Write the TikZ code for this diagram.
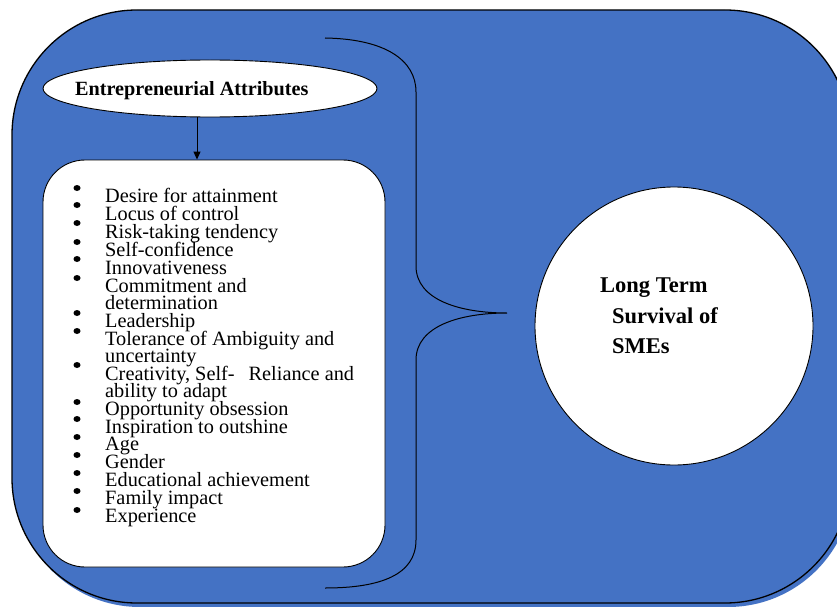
\documentclass[tikz,border=0pt]{standalone}
\usepackage{fontspec}
\setmainfont{Liberation Serif}
\usetikzlibrary{arrows.meta,shapes.geometric}
\definecolor{officeblue}{RGB}{68,114,196}
\begin{document}
\begin{tikzpicture}[x=1pt,y=-1pt,
  item/.style={anchor=base west, inner sep=0pt, font=\fontsize{20.3}{18}\selectfont},
  bul/.style={fill=black, ellipse, inner sep=0pt, minimum width=7pt, minimum height=6pt},
  ttl/.style={anchor=base west, inner sep=0pt, font=\bfseries\fontsize{20.2}{20}\selectfont},
  big/.style={anchor=base west, inner sep=0pt, font=\bfseries\fontsize{22.5}{22.5}\selectfont},
  outl/.style={draw=black, line width=0.9pt}]
\useasboundingbox (0,0) rectangle (837,607);
\clip (0,0) rectangle (837,607);
% big blue rounded frame with shadow
\fill[officeblue, rounded corners=125pt, xshift=3pt, yshift=-4pt] (12,10) rectangle (850,603);
\fill[officeblue, rounded corners=125pt] (12,10) rectangle (850,603);
\draw[line width=1.3pt, rounded corners=125pt] (12,10) rectangle (850,603);
% brace
\draw[line width=1pt] (325,38) .. controls (385,39) and (416,60) .. (416,92)
  -- (416,266) .. controls (416,300) and (460,313) .. (507,313)
  .. controls (460,313) and (416,326) .. (416,360)
  -- (416,540) .. controls (416,575) and (380,588) .. (325,588);
% title ellipse
\node[ellipse, outl, fill=white, minimum width=334pt, minimum height=57pt, inner sep=0pt] (attr) at (210,88.5) {};
\node[ttl] (attrtext) at (75,96) {Entrepreneurial Attributes};
% list box
\node[outl, fill=white, rounded corners=42pt, minimum width=342pt, minimum height=407pt, inner sep=0pt] (list) at (214,363.5) {};
\draw[line width=1pt, -{Triangle[width=7pt,length=8pt]}] ([xshift=-13pt]attr.south) -- ([xshift=-13pt]attr.south |- list.north);
% items
\node[item] (i1) at (105,202) {Desire for attainment};
\node[item] (i2) at (105,220) {Locus of control};
\node[item] (i3) at (105,238) {Risk-taking tendency};
\node[item] (i4) at (105,256) {Self-confidence};
\node[item] (i5) at (105,274) {Innovativeness};
\node[item] (i6) at (105,292) {Commitment and};
\node[item] (i6b) at (105,309) {determination};
\node[item] (i7) at (105,327) {Leadership};
\node[item] (i8) at (105,345) {Tolerance of Ambiguity and};
\node[item] (i8b) at (105,362) {uncertainty};
\node[item] (i9) at (105,380) {Creativity, Self-\hspace{14pt}Reliance and};
\node[item] (i9b) at (105,397) {ability to adapt};
\node[item] (i10) at (105,415) {Opportunity obsession};
\node[item] (i11) at (105,433) {Inspiration to outshine};
\node[item] (i12) at (105,450) {Age};
\node[item] (i13) at (105,468) {Gender};
\node[item] (i14) at (105,486) {Educational achievement};
\node[item] (i15) at (105,504) {Family impact};
\node[item] (i16) at (105,522) {Experience};
% bullets
\foreach \y [count=\k] in {188,205,223,242,259,278,313,331,365,402,419,437,455,473,491,510}
  \node[bul] (b\k) at (77,\y) {};
% circle
\node[circle, outl, fill=white, minimum size=278pt, inner sep=0pt] (surv) at (674,326) {};
\node[big] (s1) at (600,292) {Long Term};
\node[big] (s2) at (612,323) {Survival of};
\node[big] (s3) at (612,353) {SMEs};
\end{tikzpicture}
\end{document}
